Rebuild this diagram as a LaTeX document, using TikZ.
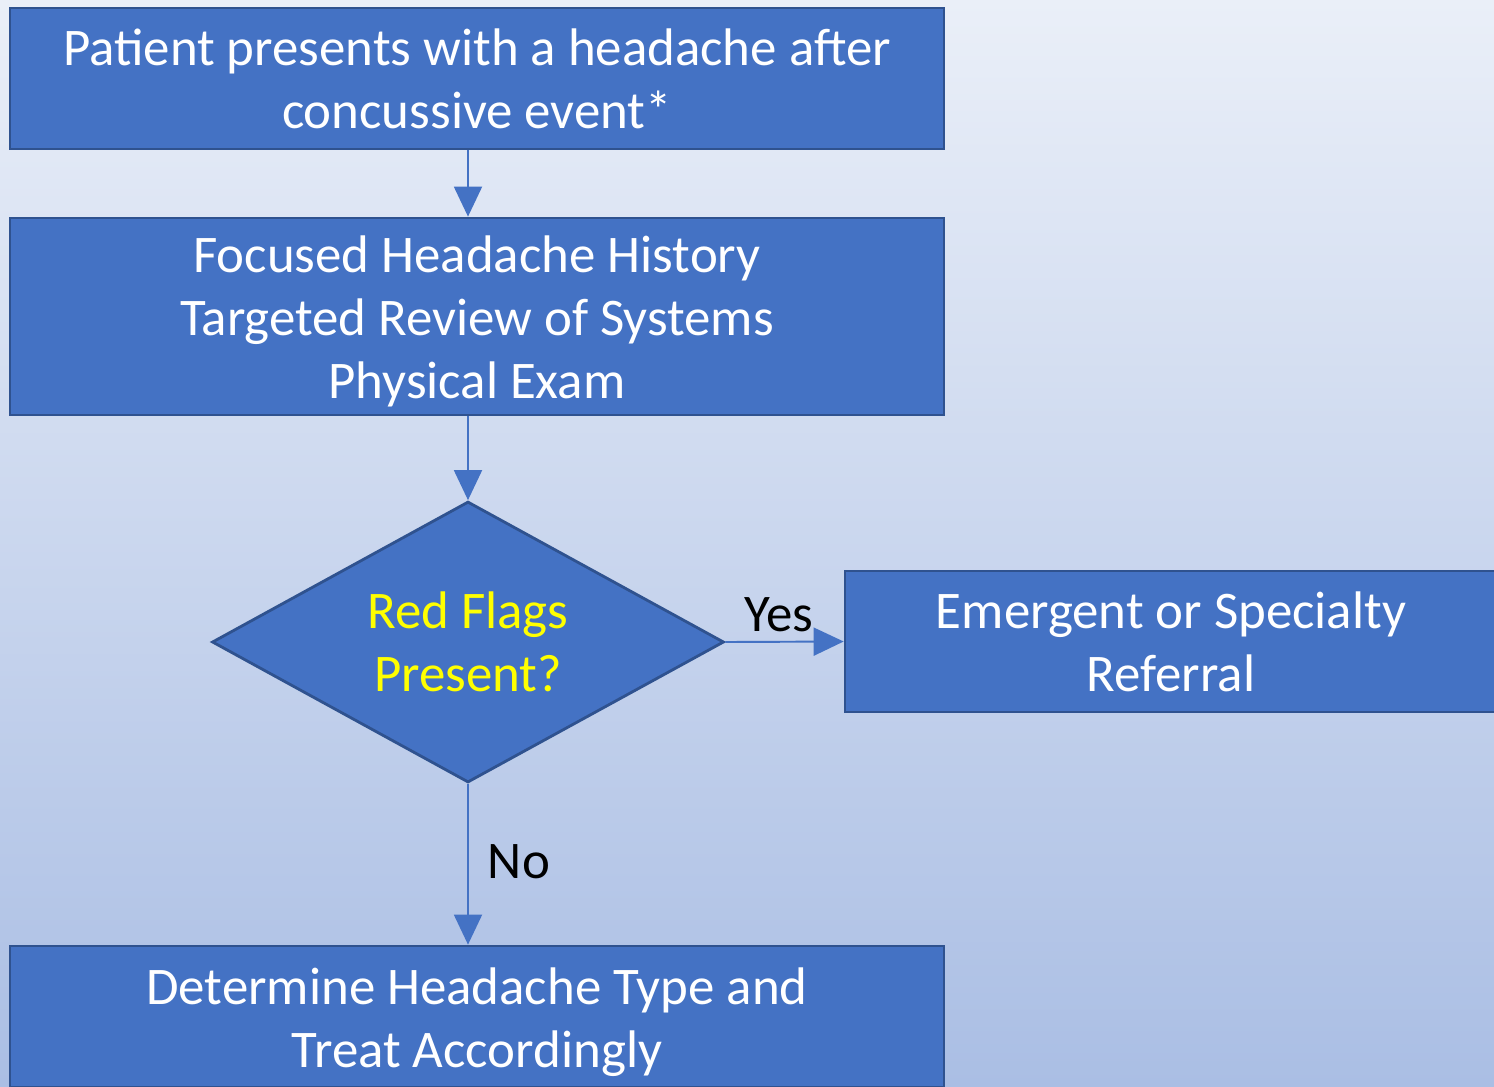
\documentclass[tikz,border=0pt]{standalone}
\usepackage{fontspec}
\setmainfont{Carlito}
\usepackage{xcolor}
\usetikzlibrary{shapes,arrows.meta}

\definecolor{boxblue}{HTML}{4472C4}
\definecolor{edgeblue}{HTML}{2F528F}
\definecolor{bgtop}{RGB}{234,239,248}
\definecolor{bgbottom}{RGB}{170,190,228}
\definecolor{flagyellow}{HTML}{FFFF00}

\newcommand{\boxfont}{\fontsize{30.1}{35.9}\selectfont}

\begin{document}
\begin{tikzpicture}[x=0.02cm, y=-0.02cm,
    block/.style={rectangle, draw=edgeblue, line width=1.6pt, fill=boxblue, text=white, text width=18cm, align=flush center, minimum width=18.68cm, minimum height=2.82cm, font=\boxfont},
    decision/.style={diamond, draw=edgeblue, line width=1.6pt, fill=boxblue, text=flagyellow, align=center, inner sep=0pt, aspect=1.82, minimum width=10.24cm, minimum height=5.62cm, font=\boxfont},
    answer/.style={text=black, font=\boxfont},
    line/.style={draw=boxblue, line width=1.1pt, -{Triangle[width=0.56cm, length=0.6cm]}}]

    % Background
    \clip (0,0) rectangle (1494,1086);
    \fill [top color=bgtop, bottom color=bgbottom] (0,0) rectangle (1494,1086);

    % Nodes
    \node [block] (event) at (477,78.5) {Patient presents with a headache after\\concussive event*};
    \node [block, minimum height=3.94cm] (history) at (477,316.5) {\raisebox{-0.1cm}[\height][\depth]{\parbox{18cm}{\centering Focused Headache History\\Targeted Review of Systems\\Physical Exam}}};
    \node [decision] (flags) at (468,642) {Red Flags\\Present?};
    \node [block, text width=12.5cm, minimum width=13.04cm] (referral) at (1171,641.5) {Emergent or Specialty\\Referral};
    \node [block] (treat) at (477,1016.5) {\raisebox{-0.12cm}[\height][\depth]{\parbox{18cm}{\centering Determine Headache Type and\\Treat Accordingly}}};

    % Answers
    \node [answer] (yes) at (779,615) {Yes};
    \node [answer] (no) at (519,862) {No};

    % Paths
    \path [line] (event.south -| flags.north) -- (history.north -| flags.north);
    \path [line] (history.south -| flags.north) -- (flags.north);
    \path [line] (flags.east) -- (referral.west);
    \path [line] (flags.south) -- (treat.north -| flags.south);

\end{tikzpicture}
\end{document}
